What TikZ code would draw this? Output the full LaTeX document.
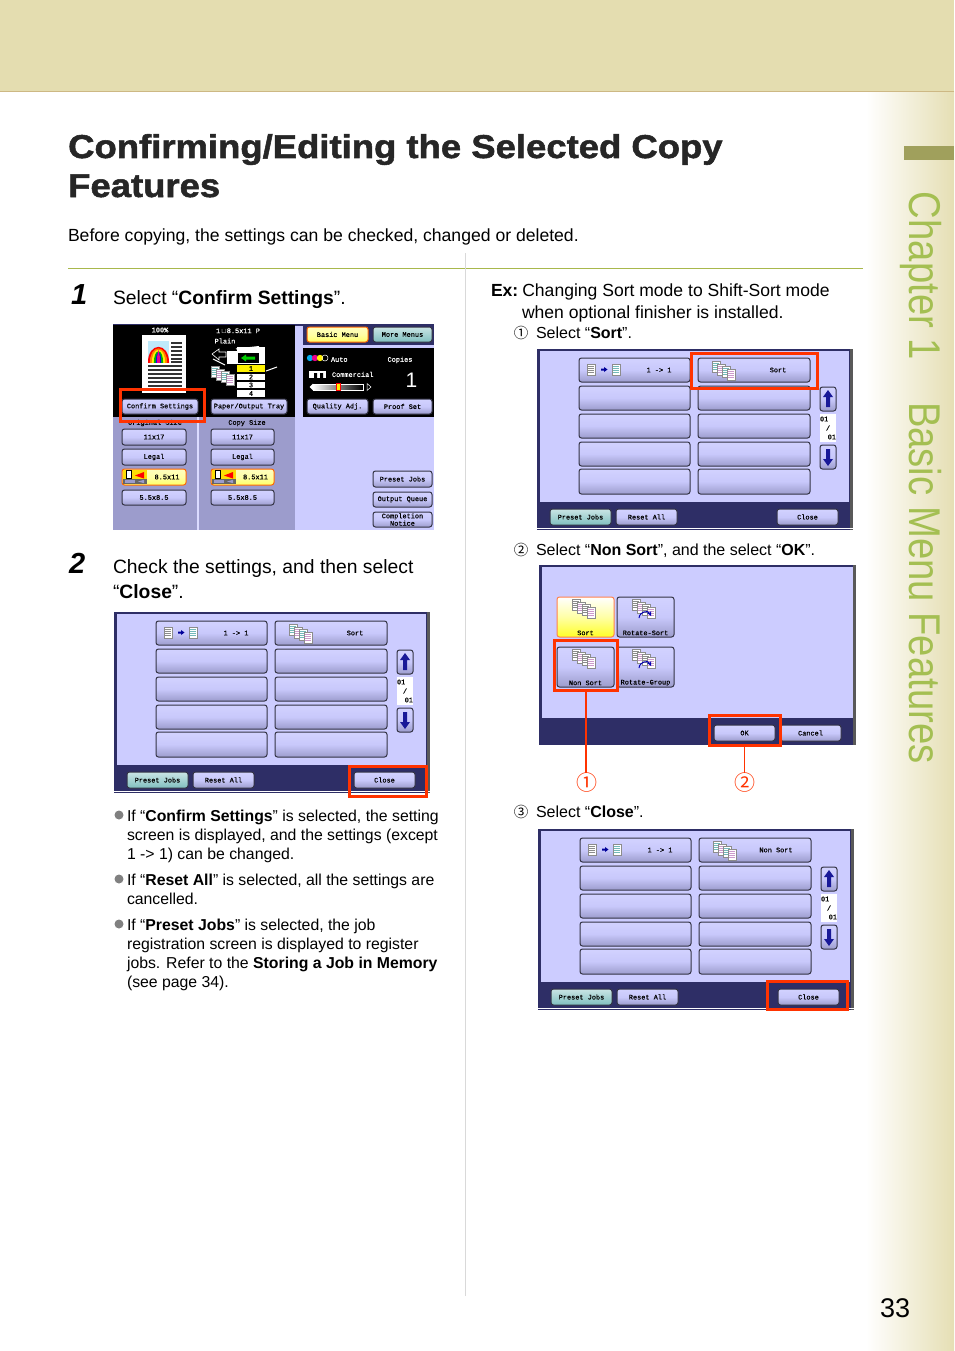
\documentclass[tikz,border=0pt]{standalone}
\usepackage{fontspec}
\setmainfont{Liberation Sans}
\newfontfamily\uimono[FakeBold=0.4]{Liberation Mono}
\newfontfamily\cjkfont{Noto Sans CJK JP}
\newfontfamily\titlefont[BoldFeatures={FakeStretch=1.105,FakeBold=1.6}]{Liberation Sans}
\newfontfamily\chapfont[FakeStretch=0.86]{Liberation Sans}
\definecolor{navyb}{HTML}{2E2E66}
\definecolor{lilac}{HTML}{CCCCFF}
\definecolor{dlilac}{HTML}{9C9CCC}
\definecolor{band}{HTML}{E4DDB0}
\definecolor{bandline}{HTML}{CDB884}
\definecolor{tabbar}{HTML}{A0A05C}
\definecolor{chap}{HTML}{A4BF52}
\definecolor{rulegreen}{HTML}{A8B84C}
\definecolor{redb}{HTML}{FF3300}
\definecolor{gborder}{HTML}{333344}
\tikzset{
 x=1pt,y=-1pt,
 btn/.style={draw=gborder,line width=1pt,rounded corners=2.5pt,inner sep=0pt,outer sep=0pt,top color=white!12!lilac,bottom color=dlilac,middle color=lilac!92!dlilac,text=black,font=\uimono\fontsize{6.9}{7.4}\selectfont,align=center},
 teal/.style={top color=white!40!teal!35,bottom color=teal!50!white,middle color=teal!35!white},
 yel/.style={draw=orange!80!red,top color=yellow!25,bottom color=yellow!60,middle color=yellow!35},
 yelb/.style={draw=orange!60!red!70,top color=white,bottom color=yellow!85,middle color=yellow!35},
 redbox/.style={draw=redb,line width=3pt,inner sep=0pt,outer sep=0pt,fill=none},
 redline/.style={draw=redb,line width=1.5pt},
 ui/.style={inner sep=0pt,outer sep=0pt,font=\uimono\fontsize{6.9}{7.4}\selectfont,text=black},
 uiw/.style={ui,text=white},
 body/.style={anchor=base west,inner sep=0pt,outer sep=0pt,font=\fontsize{19.3}{20}\selectfont},
 exline/.style={anchor=base west,inner sep=0pt,outer sep=0pt,font=\fontsize{17.55}{20}\selectfont},
 small/.style={anchor=base west,inner sep=0pt,outer sep=0pt,font=\fontsize{15.8}{18}\selectfont},
 stepline/.style={anchor=base west,inner sep=0pt,outer sep=0pt,font=\fontsize{16}{18}\selectfont},
 stepn/.style={anchor=base west,inner sep=0pt,outer sep=0pt,font=\bfseries\itshape\fontsize{29}{29}\selectfont},
 circnum/.style={inner sep=0pt,outer sep=0pt,font=\cjkfont\fontsize{14.5}{15}\selectfont},
 bignum/.style={inner sep=0pt,outer sep=0pt,text=redb,font=\cjkfont\fontsize{21}{21}\selectfont},
 bullet/.style={circle,fill=black!50,inner sep=0pt,minimum size=9pt,outer sep=0pt},
}
% [opts]{name}{x1}{y1}{x2}{y2}{text}
\newcommand\Btn[7][]{%
 \pgfmathsetmacro\bw{#5-#3}\pgfmathsetmacro\bh{#6-#4}%
 \pgfmathsetmacro\bx{(#3+#5)/2}\pgfmathsetmacro\by{(#4+#6)/2}%
 \node[btn,#1,minimum width=\bw pt,minimum height=\bh pt] (#2) at (\bx,\by) {#7};}
\newcommand\RedBox[5]{%
 \pgfmathsetmacro\bw{#4-#2}\pgfmathsetmacro\bh{#5-#3}%
 \pgfmathsetmacro\bx{(#2+#4)/2}\pgfmathsetmacro\by{(#3+#5)/2}%
 \node[redbox,minimum width=\bw pt,minimum height=\bh pt] (#1) at (\bx,\by) {};}
% small page with stripes: {x}{y}{stripe colour}
\newcommand\MiniPage[3]{%
 \fill[white,draw=black!45,line width=.4pt] (#1,#2) rectangle ++(8,11);
 \foreach \q in {2,4,6,8}{\draw[#3,line width=.7pt] (#1+1.2,#2+\q+.5) -- (#1+6.8,#2+\q+.5);}}
% sort-like icon at {x}{y}
\newcommand\PagesIcon[3]{%
 \MiniPage{#1}{#2}{#3}
 \MiniPage{#1+5}{#2+3}{violet!40}
 \MiniPage{#1+10}{#2+5}{#3}
 \MiniPage{#1+15}{#2+8}{violet!40}}
\newcommand\OneIcon[2]{%
 \MiniPage{#1}{#2}{black!45}
 \MiniPage{#1+25}{#2}{teal!55}
 \fill[blue!60!black] (#1+14,#2+4.5) rectangle ++(3,2) (#1+17,#2+3) -- ++(3.5,2.5) -- ++(-3.5,2.5) -- cycle;}
% list screen: {prefix}{dx}{dy}{label of second button}
\newcommand\ListScreen[4]{%
 \begin{scope}[shift={(#2,#3)}]
 \fill[navyb] (114,612) rectangle (430,793);
 \fill[lilac] (116.5,614) rectangle (426,765);
 \fill[black!65] (426.5,612) rectangle (430,793);
 \draw[white,line width=.8pt] (114,791.6) -- (430,791.6);
 \Btn{#1a1}{156}{621}{267}{645}{}
 \Btn{#1b1}{275}{621}{387}{645}{}
 \Btn{#1a2}{156}{649}{267}{673}{}
 \Btn{#1b2}{275}{649}{387}{673}{}
 \Btn{#1a3}{156}{677}{267}{701}{}
 \Btn{#1b3}{275}{677}{387}{701}{}
 \Btn{#1a4}{156}{705}{267}{729}{}
 \Btn{#1b4}{275}{705}{387}{729}{}
 \Btn{#1a5}{156}{732}{267}{757}{}
 \Btn{#1b5}{275}{732}{387}{757}{}
 \OneIcon{164}{627}
 \node[ui] (#1t1) at (236,633) {1 -> 1};
 \PagesIcon{289}{624}{teal!55}
 \node[ui] (#1t2) at #4;
 \Btn{#1up}{397}{650}{413}{674}{}
 \fill[blue!55!black!90] (405,653) -- (410,660) -- (407,660) -- (407,670) -- (403,670) -- (403,660) -- (400,660) -- cycle;
 \fill[white] (397,677) rectangle (413,705);
 \node[ui,anchor=west] (#1p1) at (397,682) {01};
 \node[ui] (#1p2) at (405,691) {/};
 \node[ui,anchor=east] (#1p3) at (413,700) {01};
 \Btn{#1dn}{397}{708}{413}{732}{}
 \fill[blue!55!black!90] (405,729) -- (410,722) -- (407,722) -- (407,712) -- (403,712) -- (403,722) -- (400,722) -- cycle;
 \Btn[teal]{#1pj}{127}{772}{188}{788}{Preset Jobs}
 \Btn{#1ra}{193}{772}{254}{788}{Reset All}
 \Btn{#1cl}{354}{772}{415}{788}{Close}
 \end{scope}}
\begin{document}
\begin{tikzpicture}
\useasboundingbox (0,0) rectangle (954,1351);
\fill[white] (0,0) rectangle (954,1351);
% page furniture
\shade[left color=white,right color=band!95!white] (866,92) rectangle (954,1351);
\fill[band] (0,0) rectangle (954,91);
\fill[bandline] (0,91) rectangle (954,92.4);
\fill[tabbar] (904,146) rectangle (954,160);
\node[inner sep=0pt,outer sep=0pt,anchor=base west,rotate=-90,text=chap,font=\chapfont\fontsize{44.5}{45}\selectfont] (chapter) at (909,192) {Chapter 1\hspace{42pt}Basic Menu Features};
\draw[rulegreen,line width=1pt] (68,268.5) -- (863,268.5);
\draw[black!15,line width=1pt] (465.5,253) -- (465.5,1296);
\node[anchor=base west,inner sep=0pt,font=\fontsize{27}{27}\selectfont] (pageno) at (880,1317) {33};
% title
\node[anchor=base west,inner sep=0pt,font=\titlefont\bfseries\fontsize{33}{33}\selectfont,text=black!85] (title1) at (68,158) {Confirming/Editing the Selected Copy};
\node[anchor=base west,inner sep=0pt,font=\titlefont\bfseries\fontsize{33}{33}\selectfont,text=black!85] (title2) at (68,197) {Features};
\node[body,font=\fontsize{17.6}{20}\selectfont] (intro) at (68,241) {Before copying, the settings can be checked, changed or deleted.};
% left column text
\node[stepn] (n1) at (71,304) {1};
\node[body] (s1) at (113,304) {Select “\textbf{Confirm Settings}”.};
\node[stepn] (n2) at (69,573) {2};
\node[body] (s2a) at (113,573) {Check the settings, and then select};
\node[body] (s2b) at (113,598) {“\textbf{Close}”.};
% main screen
\fill[lilac] (113,324) rectangle (434,530);
\fill[navyb] (113,324) rectangle (434,326);
\fill[dlilac] (113,416) rectangle (295,530);
\fill[lilac!70!white] (197,416) rectangle (199,530);
\fill[black] (113,325) rectangle (295,417);
\fill[navyb] (303,325) rectangle (434,344.5);
\fill[black] (303,348) rectangle (434,417);
\node[uiw] (pct) at (160,330) {100\%};
% page preview
\fill[white] (142,335) rectangle (186,393);
\fill[cyan!25] (148,341) rectangle (169,362);
\begin{scope}
\clip (148,341) rectangle (169,362);
\foreach \c/\w in {red/0,orange/2,yellow/4,green!70!black/6,blue/8,magenta/10}{
 \draw[\c,line width=2.2pt] (149+\w,363) .. controls (149+\w,343+\w) and (168-\w,343+\w) .. (168-\w,363);}
\end{scope}
\foreach \yy in {343,347,351,355,359,362}{\draw[black!80,line width=1.4pt] (171,\yy) -- (182,\yy);}
\foreach \yy in {366,370,374,378,382,386}{\draw[black!80,line width=1.4pt] (148,\yy) -- (182,\yy);}
\node[uiw] (paperlab) at (238,331) {1\,\raisebox{-.5pt}{$\sqcup$}8.5x11 P};
\node[uiw] (plain) at (225,341) {Plain};
% copier
\fill[white] (227,351) rectangle (265,364);
\fill[black] (238,353) rectangle (259,363);
\fill[green!80!black] (241,358) -- (246,354.5) -- (246,356.5) -- (255,356.5) -- (255,359.5) -- (246,359.5) -- (246,361.5) -- cycle;
\draw[white,line width=.6pt] (212,354) -- (219,349) -- (219,352) -- (226,352) -- (226,357) -- (219,357) -- (219,360) -- cycle;
\draw[white,line width=1pt] (236,349) -- (259,346.5);
\draw[white,line width=1pt] (213,359) -- (225,365);
\draw[white,line width=1pt] (266,371) -- (277,367);
\fill[white] (237,347) rectangle (265,351);
\fill[yellow] (237,365) rectangle (265,372);
\fill[white] (237,374) rectangle (265,380);
\fill[white] (237,382) rectangle (265,388);
\fill[white] (237,390) rectangle (265,397);
\node[ui] (tr1) at (251,368.5) {1};
\node[ui] (tr2) at (251,377) {2};
\node[ui] (tr3) at (251,385) {3};
\node[ui] (tr4) at (251,393.5) {4};
\PagesIcon{211}{366}{teal!55}
% right black panel
\fill[cyan] (310,358) circle[radius=3.2pt];
\fill[magenta] (315,358) circle[radius=3.2pt];
\fill[yellow] (320,358) circle[radius=3.2pt];
\draw[white,line width=.5pt] (325,358) circle[radius=3pt];
\node[uiw,anchor=west] (auto) at (331,359.5) {Auto};
\node[uiw] (copies) at (400,360) {Copies};
\fill[white] (309,371) rectangle (326,378);
\fill[black] (314,373) rectangle (317,378) (320,373) rectangle (323,378);
\node[uiw,anchor=west] (comm) at (332,374.5) {Commercial};
\shade[left color=white,right color=black] (313,384) rectangle (363,390);
\draw[white,line width=.5pt] (313,384) rectangle (363,390);
\fill[yellow,draw=red,line width=.4pt] (336.5,383.5) rectangle (340,390.5);
\fill[white] (313,383.5) -- (309.5,387) -- (313,390.5) -- cycle;
\draw[white,line width=.5pt] (367,383.5) -- (371,387) -- (367,390.5) -- cycle;
\node[uiw,font=\fontsize{21}{22}\selectfont] (onecopy) at (411.5,380) {1};
% main screen buttons
\Btn[yel,draw=orange!80!red]{basic}{307}{327}{368}{342}{Basic Menu}
\Btn[teal]{more}{373}{327}{432}{342}{More Menus}
\Btn{qual}{307}{399}{368}{414}{Quality Adj.}
\Btn{proof}{373}{399}{432}{414}{Proof Set}
\Btn{conf}{122}{399}{198}{414}{Confirm Settings}
\Btn{ptray}{211}{399}{287}{414}{Paper/Output Tray}
\node[ui] (osize) at (155,423) {Original Size};
\node[ui] (csize) at (247,423) {Copy Size};
\Btn{o1}{122}{429}{186}{445}{11x17}
\Btn{o2}{122}{449}{186}{465}{Legal}
\Btn[yel]{o3}{122}{469}{186}{485}{\hspace{26pt}8.5x11}
\Btn{o4}{122}{490}{186}{505}{5.5x8.5}
\Btn{c1}{211}{429}{274}{445}{11x17}
\Btn{c2}{211}{449}{274}{465}{Legal}
\Btn[yel]{c3}{211}{469}{274}{485}{\hspace{26pt}8.5x11}
\Btn{c4}{211}{490}{274}{505}{5.5x8.5}
\foreach \xx in {123,212}{
 \fill[yellow!80!orange] (\xx,470) rectangle (\xx+23.5,479);
 \fill[white,draw=black,line width=.4pt] (\xx+3,470.5) rectangle (\xx+8,478);
 \fill[red] (\xx+12,475.5) -- (\xx+21,472) -- (\xx+21,478.5) -- cycle;
 \fill[black!60] (\xx,479) rectangle (\xx+23.5,484);
 \fill[dlilac] (\xx+2,480) rectangle (\xx+12,483);
 \fill[dlilac] (\xx+15,481.5) -- (\xx+21,479.8) -- (\xx+21,483.2) -- cycle;
}
\Btn{pj}{373}{471}{432}{487}{Preset Jobs}
\Btn{oq}{373}{492}{432}{507}{Output Queue}
\Btn{cn}{373}{512}{432}{527}{Completion\\Notice}
\RedBox{rconf}{120}{389}{204}{421}
% screen A
\ListScreen{A}{0}{0}{(355,633) {Sort}}
\RedBox{rclA}{349}{766}{426}{796}
% bullets
\node[bullet] (b1) at (119,815) {};
\node[small] (b1a) at (127,821) {If “\textbf{Confirm Settings}” is selected, the setting};
\node[small] (b1b) at (127,840) {screen is displayed, and the settings (except};
\node[small] (b1c) at (127,859) {1 -> 1) can be changed.};
\node[bullet] (b2) at (119,879) {};
\node[small] (b2a) at (127,885) {If “\textbf{Reset All}” is selected, all the settings are};
\node[small] (b2b) at (127,904) {cancelled.};
\node[bullet] (b3) at (119,924) {};
\node[small] (b3a) at (127,930) {If “\textbf{Preset Jobs}” is selected, the job};
\node[small] (b3b) at (127,949) {registration screen is displayed to register};
\node[small] (b3c) at (127,968) {jobs. Refer to the \textbf{Storing a Job in Memory}};
\node[small] (b3d) at (127,987) {(see page 34).};
% right column text
\node[exline] (ex1) at (491,296) {\textbf{Ex:}\hspace{-2.5pt} Changing Sort mode to Shift-Sort mode};
\node[exline] (ex2) at (522,318) {when optional finisher is installed.};
\node[circnum] (cn1) at (521,333) {①};
\node[stepline] (st1) at (536,338) {Select “\textbf{Sort}”.};
\node[circnum] (cn2) at (521,550) {②};
\node[stepline] (st2) at (536,555) {Select “\textbf{Non Sort}”, and the select “\textbf{OK}”.};
\node[circnum] (cn3) at (521,812) {③};
\node[stepline] (st3) at (536,817) {Select “\textbf{Close}”.};
% screen B
\ListScreen{B}{423}{-263}{(355,633) {Sort}}
\RedBox{rsort}{691}{353}{817}{388}
% option screen
\fill[navyb] (539,565) rectangle (855,745);
\fill[lilac] (542,567) rectangle (853,718);
\fill[black!65] (853,565) rectangle (855.5,745);
\Btn[yelb]{oSort}{557}{597}{614}{637}{\\[29pt]Sort}
\Btn{oRS}{617}{597}{674}{637}{\\[29pt]Rotate-Sort}
\Btn{oNS}{557}{647}{614}{687}{\\[29pt]Non Sort}
\Btn{oRG}{617}{647}{674}{687}{\\[29pt]Rotate-Group}
\PagesIcon{572}{599}{black!45}
\PagesIcon{632}{599}{black!45}
\PagesIcon{572}{649}{black!45}
\PagesIcon{632}{649}{black!45}
\draw[blue!70!black,line width=1pt,->,>=stealth] (639,618) .. controls (640,611) and (648,610) .. (651,616);
\draw[blue!70!black,line width=1pt,->,>=stealth] (639,668) .. controls (640,661) and (648,660) .. (651,666);
\Btn{ok}{714}{725}{775}{741}{OK}
\Btn{cancel}{780}{725}{841}{741}{Cancel}
\RedBox{rns}{554.5}{640}{617}{690}
\RedBox{rok}{709}{715}{780}{745}
\node[bignum] (big1) at (587,783) {①};
\node[bignum] (big2) at (745,783) {②};
\draw[redline] (rns.south) -- (big1.north -| rns.south);
\draw[redline] (rok.south) -- (big2.north -| rok.south);
% screen C
\ListScreen{C}{424}{217}{(352,633) {Non Sort}}
\RedBox{rclC}{767}{981}{847}{1009}
\end{tikzpicture}
\end{document}
